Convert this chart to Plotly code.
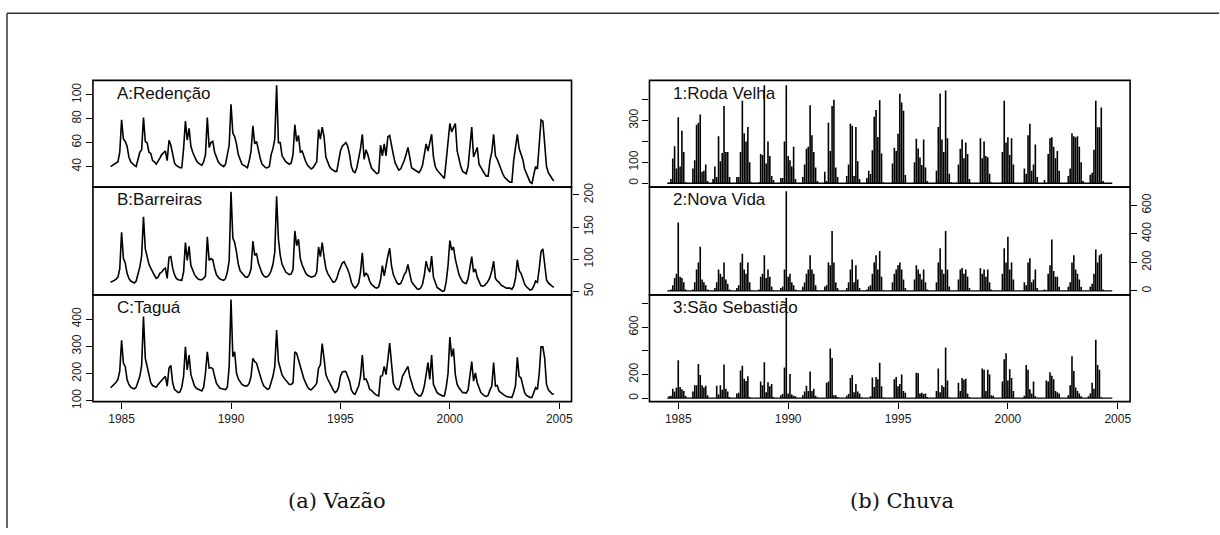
import plotly.graph_objects as go

# ---------------------------------------------------------------------------
# Monthly series, July 1984 through October 2004 (244 months).
# Each row below is one calendar year (the first row starts in July).
# ---------------------------------------------------------------------------

# Streamflow (vazão)
redencao = [
    40, 41, 42, 43, 44, 52,
    79, 63, 61, 57, 48, 44, 42, 41, 40, 45, 52, 54,
    81, 61, 60, 52, 51, 45, 44, 42, 44, 47, 50, 52,
    53, 45, 62, 58, 50, 43, 41, 40, 39, 39, 55, 78,
    62, 72, 57, 52, 48, 45, 43, 42, 41, 44, 50, 81,
    56, 60, 61, 52, 47, 44, 42, 41, 40, 42, 50, 58,
    92, 68, 65, 59, 50, 45, 42, 41, 40, 39, 45, 53,
    74, 59, 61, 53, 47, 42, 40, 39, 39, 40, 50, 55,
    63, 108, 60, 60, 49, 46, 44, 43, 42, 43, 50, 75,
    61, 66, 52, 53, 48, 44, 41, 39, 38, 39, 42, 44,
    71, 63, 73, 65, 48, 44, 40, 38, 37, 36, 36, 45,
    53, 57, 59, 60, 57, 50, 40, 36, 35, 39, 47, 55,
    67, 46, 54, 50, 44, 39, 37, 35, 34, 35, 58, 49,
    59, 49, 65, 66, 57, 50, 43, 40, 37, 38, 41, 45,
    50, 56, 48, 39, 38, 37, 36, 35, 37, 41, 50, 59,
    53, 60, 67, 48, 40, 37, 35, 33, 31, 30, 45, 60,
    76, 69, 72, 76, 53, 45, 40, 36, 35, 34, 40, 55,
    73, 48, 52, 56, 42, 39, 36, 34, 32, 32, 45, 52,
    67, 49, 46, 42, 37, 34, 31, 29, 28, 27, 27, 45,
    55, 67, 55, 51, 46, 38, 34, 30, 27, 26, 33, 40,
    38, 55, 79, 78, 55, 40, 35, 32, 30, 28,
]

barreiras = [
    64, 65, 67, 69, 72, 85,
    142, 101, 94, 78, 70, 66, 64, 63, 66, 76, 88, 105,
    166, 116, 101, 92, 86, 79, 75, 70, 72, 78, 80, 84,
    86, 70, 103, 104, 86, 76, 70, 68, 67, 67, 80, 126,
    98, 120, 90, 82, 76, 72, 69, 68, 68, 70, 74, 135,
    98, 101, 99, 86, 76, 72, 69, 68, 67, 70, 80, 98,
    205, 133, 126, 111, 92, 82, 78, 75, 72, 72, 76, 85,
    128, 106, 109, 94, 84, 78, 74, 72, 73, 76, 82, 92,
    111, 198, 131, 106, 92, 85, 80, 78, 76, 77, 84, 144,
    121, 131, 101, 91, 85, 78, 75, 73, 72, 73, 74, 80,
    119, 104, 126, 104, 86, 78, 73, 68, 64, 65, 70, 80,
    88, 94, 96, 91, 84, 76, 64, 58, 55, 58, 63, 80,
    110, 73, 78, 75, 66, 61, 58, 56, 55, 57, 68, 90,
    74, 93, 105, 117, 90, 76, 68, 63, 61, 62, 68, 76,
    80, 92, 78, 65, 61, 57, 54, 53, 55, 61, 75, 97,
    85, 80, 105, 72, 62, 56, 54, 52, 50, 51, 65, 90,
    129, 114, 119, 100, 88, 76, 70, 65, 63, 62, 70, 85,
    104, 80, 85, 72, 64, 59, 58, 59, 62, 66, 72, 82,
    97, 70, 66, 64, 60, 58, 56, 55, 55, 55, 53, 58,
    70, 99, 82, 78, 70, 61, 57, 54, 52, 53, 58, 66,
    64, 85, 112, 116, 90, 68, 63, 60, 58, 56,
]

tagua = [
    148, 154, 160, 168, 178, 210,
    322, 238, 226, 178, 160, 150, 146, 144, 150, 175, 190, 230,
    409, 256, 226, 184, 166, 156, 152, 150, 160, 168, 175, 185,
    190, 154, 220, 230, 166, 142, 134, 130, 132, 150, 190, 298,
    213, 268, 196, 170, 154, 146, 142, 138, 136, 150, 202, 280,
    220, 222, 218, 190, 165, 154, 146, 144, 142, 141, 150, 226,
    472, 262, 280, 202, 180, 168, 160, 156, 154, 155, 165, 190,
    256, 244, 238, 215, 190, 170, 154, 148, 142, 145, 165, 190,
    226, 360, 244, 220, 195, 184, 175, 165, 160, 160, 166, 280,
    274, 250, 226, 200, 180, 165, 150, 142, 140, 148, 154, 165,
    220, 232, 310, 256, 196, 180, 165, 150, 140, 130, 135, 150,
    190, 205, 208, 207, 190, 172, 140, 128, 124, 140, 154, 190,
    268, 178, 180, 165, 142, 138, 130, 124, 120, 118, 190, 192,
    226, 196, 250, 312, 238, 166, 150, 142, 140, 160, 190, 202,
    210, 226, 190, 166, 145, 130, 122, 118, 118, 130, 154, 200,
    240, 178, 268, 160, 145, 130, 125, 120, 118, 118, 150, 200,
    334, 262, 292, 196, 160, 148, 138, 130, 130, 128, 140, 190,
    244, 172, 202, 166, 145, 130, 124, 118, 116, 120, 140, 154,
    240, 154, 156, 135, 130, 124, 120, 116, 114, 112, 112, 130,
    156, 260, 190, 184, 150, 130, 120, 115, 112, 112, 130, 148,
    142, 200, 298, 298, 256, 160, 140, 132, 126, 124,
]

# Rainfall (chuva)
roda_velha = [
    0, 2, 20, 118, 177, 71,
    316, 80, 252, 150, 5, 0, 0, 0, 70, 110, 280, 290,
    330, 55, 60, 90, 10, 0, 0, 20, 80, 30, 225, 105,
    145, 370, 150, 150, 30, 0, 0, 0, 30, 30, 150, 395,
    240, 200, 270, 100, 5, 0, 0, 0, 5, 140, 135, 470,
    95, 200, 130, 35, 15, 0, 0, 0, 25, 25, 200, 470,
    130, 110, 80, 175, 20, 0, 0, 0, 30, 90, 165, 175,
    374, 230, 150, 75, 10, 0, 0, 0, 55, 10, 290, 155,
    370, 400, 75, 30, 0, 0, 0, 0, 35, 90, 285, 275,
    35, 270, 105, 20, 0, 0, 0, 25, 60, 44, 158, 319,
    351, 221, 398, 142, 5, 0, 0, 0, 0, 95, 170, 155,
    237, 429, 387, 347, 39, 0, 0, 0, 0, 100, 213, 166,
    123, 87, 209, 75, 10, 0, 0, 0, 0, 60, 270, 430,
    210, 150, 445, 215, 45, 5, 0, 0, 0, 90, 165, 210,
    120, 195, 140, 20, 0, 0, 0, 0, 0, 215, 120, 200,
    130, 125, 45, 5, 0, 0, 0, 0, 0, 150, 395, 195,
    220, 135, 215, 90, 0, 0, 0, 0, 0, 70, 45, 230,
    285, 60, 90, 185, 30, 0, 0, 0, 15, 0, 140, 215,
    220, 175, 120, 155, 60, 0, 0, 0, 0, 35, 70, 240,
    225, 220, 225, 175, 100, 10, 0, 0, 0, 40, 50, 160,
    395, 268, 268, 363, 10, 0, 0, 0, 0, 0,
]

nova_vida = [
    0, 0, 10, 40, 90, 120,
    480, 100, 90, 60, 10, 0, 0, 0, 10, 60, 150, 200,
    310, 80, 60, 40, 10, 0, 0, 0, 20, 60, 150, 120,
    100, 200, 80, 50, 10, 0, 0, 0, 20, 40, 200, 260,
    150, 120, 200, 60, 5, 0, 0, 0, 10, 100, 120, 250,
    90, 150, 100, 30, 5, 0, 0, 0, 20, 30, 150, 700,
    100, 120, 60, 40, 10, 0, 0, 0, 30, 60, 120, 150,
    250, 150, 120, 40, 5, 0, 0, 0, 30, 40, 200, 180,
    420, 200, 60, 20, 0, 0, 0, 0, 20, 60, 150, 220,
    60, 180, 80, 20, 0, 0, 0, 10, 30, 40, 120, 200,
    250, 150, 280, 100, 5, 0, 0, 0, 0, 60, 120, 150,
    180, 200, 150, 80, 20, 0, 0, 0, 0, 80, 180, 150,
    120, 80, 150, 60, 10, 0, 0, 0, 0, 60, 200, 300,
    150, 120, 420, 150, 30, 0, 0, 0, 0, 80, 150, 160,
    120, 150, 100, 20, 0, 0, 0, 0, 0, 160, 120, 150,
    100, 150, 60, 10, 0, 0, 0, 0, 0, 120, 300, 200,
    380, 150, 200, 80, 0, 0, 0, 0, 0, 60, 40, 200,
    230, 60, 80, 150, 20, 0, 0, 0, 10, 0, 120, 180,
    360, 140, 100, 100, 30, 0, 0, 0, 0, 30, 60, 200,
    250, 150, 120, 80, 30, 0, 0, 0, 0, 30, 50, 120,
    290, 200, 250, 260, 10, 0, 0, 0, 0, 0,
]

sao_sebastiao = [
    0, 15, 20, 80, 55, 90,
    320, 95, 75, 60, 20, 0, 0, 0, 55, 110, 110, 290,
    195, 110, 90, 105, 25, 0, 0, 0, 0, 105, 30, 110,
    70, 285, 80, 55, 10, 0, 0, 0, 40, 45, 235, 275,
    165, 145, 185, 10, 0, 0, 0, 0, 0, 140, 110, 305,
    50, 135, 100, 120, 10, 0, 0, 0, 25, 35, 260, 850,
    40, 205, 30, 20, 15, 0, 0, 0, 25, 55, 105, 60,
    225, 60, 80, 20, 5, 0, 0, 0, 0, 130, 140, 420,
    340, 25, 25, 10, 0, 0, 0, 0, 20, 35, 170, 195,
    50, 120, 55, 40, 5, 0, 0, 0, 0, 15, 175, 95,
    180, 160, 300, 100, 5, 0, 0, 0, 0, 0, 160, 180,
    100, 120, 200, 60, 45, 0, 0, 0, 0, 0, 215, 210,
    40, 45, 35, 40, 10, 0, 0, 0, 0, 60, 250, 50,
    110, 95, 430, 150, 5, 0, 0, 0, 0, 130, 60, 170,
    155, 165, 40, 10, 0, 0, 0, 0, 0, 0, 250, 240,
    60, 240, 200, 25, 20, 0, 0, 0, 0, 140, 330, 380,
    150, 245, 170, 60, 0, 0, 0, 0, 0, 20, 280, 240,
    75, 40, 140, 15, 0, 0, 0, 0, 0, 150, 140, 220,
    190, 160, 60, 50, 40, 0, 0, 0, 0, 25, 110, 355,
    230, 90, 60, 40, 15, 0, 0, 0, 15, 40, 130, 80,
    495, 280, 240, 5, 0, 0, 0, 0, 0, 0,
]

# Panel names and tick labels
flow_names = ["A:Redenção", "B:Barreiras", "C:Taguá"]
rain_names = ["1:Roda Velha", "2:Nova Vida", "3:São Sebastião"]
year_ticks = [1985, 1990, 1995, 2000, 2005]
flow_ticks = [[40, 60, 80, 100], [50, 100, 150, 200], [100, 200, 300, 400]]
flow_ticktext = [["40", "60", "80", "100"], ["50", "100", "150", "200"],
                 ["100", "200", "300", "400"]]
rain_ticks = [[0, 100, 200, 300, 400], [0, 200, 400, 600], [0, 200, 400, 600, 800]]
rain_ticktext = [["0", "100", "", "300", ""], ["0", "200", "400", "600"],
                 ["0", "200", "", "600", ""]]
captions = ["(a) Vazão", "(b) Chuva"]

flow_series = [redencao, barreiras, tagua]
rain_series = [roda_velha, nova_vida, sao_sebastiao]

START = 1984 + 6 / 12
time = [START + k / 12 for k in range(len(redencao))]

# ---------------------------------------------------------------------------
# Layout geometry (pixels of the 1220 x 535 page)
# ---------------------------------------------------------------------------
W, H = 1220, 535
row_tops = [78, 187, 297]
row_bottoms = [187, 297, 406]
left_cols = (93, 572)
right_cols = (650, 1131)
x_range = [1983.69, 2005.56]
flow_ranges = [[22.8, 112.0], [44.4, 212.2], [96.8, 488.8]]
rain_ranges = [[-19, 493], [-28, 728], [-30, 875]]
flow_sides = ["left", "right", "left"]
rain_sides = ["left", "right", "left"]

TICK_FONT = dict(family="Liberation Sans, Arial, sans-serif", size=12, color="#1a1a1a")
LABEL_FONT = dict(family="Liberation Sans, Arial, sans-serif", size=17, color="#111")
CAPTION_FONT = dict(family="DejaVu Serif, Liberation Serif, serif", size=21, color="#111")


def xdom(a, b):
    return [a / W, b / W]


def ydom(top, bottom):
    return [1 - bottom / H, 1 - top / H]


def spikes(t, v):
    """Vertical segments from zero up to each value (R's type='h')."""
    xs, ys = [], []
    for ti, vi in zip(t, v):
        xs += [ti, ti, None]
        ys += [0, vi, None]
    return xs, ys


fig = go.Figure()
layout = dict(
    width=W, height=H,
    margin=dict(l=0, r=0, t=0, b=0),
    paper_bgcolor="white", plot_bgcolor="white",
    showlegend=False,
)

annotations = []
shapes = []
for col, (series_list, names, ranges, sides, cols) in enumerate([
    (flow_series, flow_names, flow_ranges, flow_sides, left_cols),
    (rain_series, rain_names, rain_ranges, rain_sides, right_cols),
]):
    for row in range(3):
        k = col * 3 + row + 1
        xa = "x" if k == 1 else f"x{k}"
        ya = "y" if k == 1 else f"y{k}"
        values = series_list[row]
        if col == 0:
            fig.add_trace(go.Scatter(
                x=time, y=values, mode="lines",
                line=dict(color="black", width=1.6),
                xaxis=xa, yaxis=ya, hoverinfo="skip",
            ))
            tv, tt = flow_ticks[row], flow_ticktext[row]
        else:
            fig.add_trace(go.Scatter(
                x=[time[0], time[-1]], y=[0, 0], mode="lines",
                line=dict(color="black", width=1.4),
                xaxis=xa, yaxis=ya, hoverinfo="skip",
            ))
            sx, sy = spikes(time, values)
            fig.add_trace(go.Scatter(
                x=sx, y=sy, mode="lines",
                line=dict(color="black", width=1.6),
                xaxis=xa, yaxis=ya, hoverinfo="skip",
            ))
            tv, tt = rain_ticks[row], rain_ticktext[row]

        bottom = row == 2
        xkey = "xaxis" if k == 1 else f"xaxis{k}"
        ykey = "yaxis" if k == 1 else f"yaxis{k}"
        layout[xkey] = dict(
            domain=xdom(*cols), anchor=ya, range=x_range,
            showline=False, showgrid=False, zeroline=False,
            ticks="outside" if bottom else "", ticklen=6, tickwidth=1, tickcolor="black",
            tickvals=year_ticks if bottom else [],
            showticklabels=bottom, tickfont=TICK_FONT,
        )
        layout[ykey] = dict(
            domain=ydom(row_tops[row], row_bottoms[row]), anchor=xa,
            range=(ranges[row]), side=sides[row],
            showline=False, showgrid=False, zeroline=False,
            ticks="outside", ticklen=6, tickwidth=1, tickcolor="black",
            tickvals=tv, ticktext=tt, tickangle=-90, tickfont=TICK_FONT,
        )
        # panel frame
        shapes.append(dict(
            type="rect", xref="paper", yref="paper",
            x0=cols[0] / W, x1=cols[1] / W,
            y0=1 - row_bottoms[row] / H, y1=1 - row_tops[row] / H,
            line=dict(color="black", width=1.6), fillcolor="rgba(0,0,0,0)",
            layer="above",
        ))
        annotations.append(dict(
            x=(cols[0] + 22) / W, y=1 - (row_tops[row] + 13) / H,
            xref="paper", yref="paper", xanchor="left", yanchor="middle",
            text=names[row], showarrow=False, font=LABEL_FONT,
        ))

for text, cx in zip(captions, [337, 903]):
    annotations.append(dict(
        x=cx / W, y=1 - 507 / H, xref="paper", yref="paper",
        xanchor="center", yanchor="middle", text=text, showarrow=False,
        font=CAPTION_FONT,
    ))

# outer page frame (top and left edges)
shapes += [
    dict(type="line", xref="paper", yref="paper",
         x0=7 / W, x1=1.0, y0=1 - 9.5 / H, y1=1 - 9.5 / H,
         line=dict(color="#333", width=1.5)),
    dict(type="line", xref="paper", yref="paper",
         x0=7 / W, x1=7 / W, y0=0, y1=1 - 9.5 / H,
         line=dict(color="#333", width=1.5)),
]
layout["annotations"] = annotations
layout["shapes"] = shapes
fig.update_layout(**layout)
fig.write_html("out.html")
